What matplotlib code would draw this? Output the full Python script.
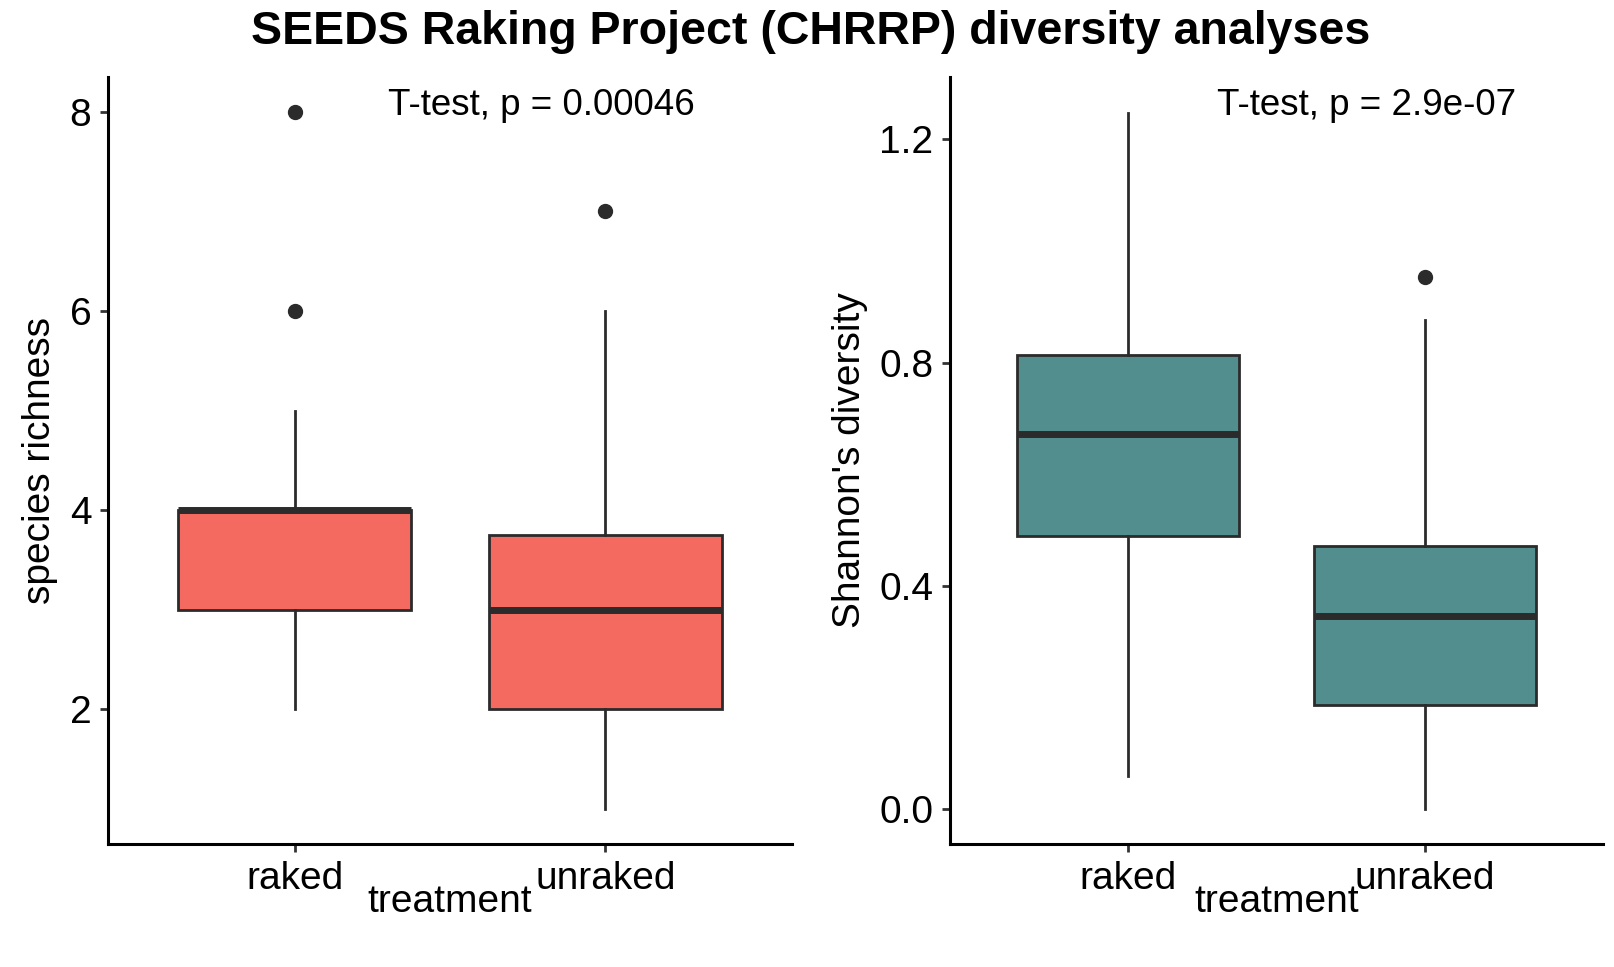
import matplotlib
matplotlib.use("Agg")
import matplotlib.pyplot as plt

plt.rcParams['font.family'] = ['Liberation Sans', 'DejaVu Sans']

categories = ["raked", "unraked"]

# species richness box stats
rich_whislo = [2, 1]
rich_q1 = [3, 2]
rich_med = [4, 3]
rich_q3 = [4, 3.75]
rich_whishi = [5, 6]
rich_fliers = [[6, 8], [7]]

# Shannon diversity box stats
shan_whislo = [0.06, 0.0]
shan_q1 = [0.49, 0.186]
shan_med = [0.672, 0.346]
shan_q3 = [0.814, 0.471]
shan_whishi = [1.248, 0.876]
shan_fliers = [[], [0.953]]

rich_ticks = [2, 4, 6, 8]
shan_ticks = [0.0, 0.4, 0.8, 1.2]
shan_ticklabels = ["0.0", "0.4", "0.8", "1.2"]

title = "SEEDS Raking Project (CHRRP) diversity analyses"
p_left = "T-test, p = 0.00046"
p_right = "T-test, p = 2.9e-07"

W, H = 1615, 967
fig = plt.figure(figsize=(W / 100, H / 100), dpi=100)

edge = "#2b2b2b"

def make_stats(wl, q1, md, q3, wh, fl):
    out = []
    for i in range(len(wl)):
        out.append(dict(whislo=wl[i], q1=q1[i], med=md[i], q3=q3[i], whishi=wh[i], fliers=fl[i]))
    return out

def draw(ax, stats, color, ylim, ticks, ticklabels, ylabel, ptext):
    ax.bxp(stats, positions=[1, 2], widths=0.75, patch_artist=True, showcaps=False,
           boxprops=dict(facecolor=color, edgecolor=edge, linewidth=2.0),
           medianprops=dict(color=edge, linewidth=5.0, solid_capstyle='butt'),
           whiskerprops=dict(color=edge, linewidth=2.0),
           flierprops=dict(marker='o', markerfacecolor=edge, markeredgecolor=edge, markersize=10))
    ax.set_xlim(0.4, 2.6)
    ax.set_ylim(*ylim)
    ax.set_xticks([1, 2])
    ax.set_xticklabels(categories)
    ax.set_yticks(ticks)
    ax.set_yticklabels(ticklabels)
    for s in ['top', 'right']:
        ax.spines[s].set_visible(False)
    for s in ['left', 'bottom']:
        ax.spines[s].set_linewidth(2.2)
        ax.spines[s].set_color('black')
    ax.tick_params(axis='both', length=6, width=2.0, color='#333333', labelsize=28, pad=6, labelcolor='black')
    ax.set_xlabel("treatment", fontsize=28, labelpad=-9)
    ax.set_ylabel(ylabel, fontsize=28, labelpad=8)
    ax.text(1.3, 0.963, ptext, transform=ax.get_xaxis_transform(), ha='left', va='center', fontsize=26.5)

ax1 = fig.add_axes([108 / W, 1 - 844 / H, (792 - 108) / W, (844 - 76.7) / H])
draw(ax1, make_stats(rich_whislo, rich_q1, rich_med, rich_q3, rich_whishi, rich_fliers),
     "#F46A60", (0.65, 8.35), rich_ticks, [str(t) for t in rich_ticks], "species richness", p_left)

ax2 = fig.add_axes([950 / W, 1 - 844 / H, (1603 - 950) / W, (844 - 76.7) / H])
draw(ax2, make_stats(shan_whislo, shan_q1, shan_med, shan_q3, shan_whishi, shan_fliers),
     "#528E8E", (-0.0625, 1.3125), shan_ticks, shan_ticklabels, "Shannon's diversity", p_right)

fig.text(811 / W, 1 - 32 / H, title, ha='center', va='center', fontsize=33.5, fontweight='bold')

fig.savefig("out.png", dpi=100)
